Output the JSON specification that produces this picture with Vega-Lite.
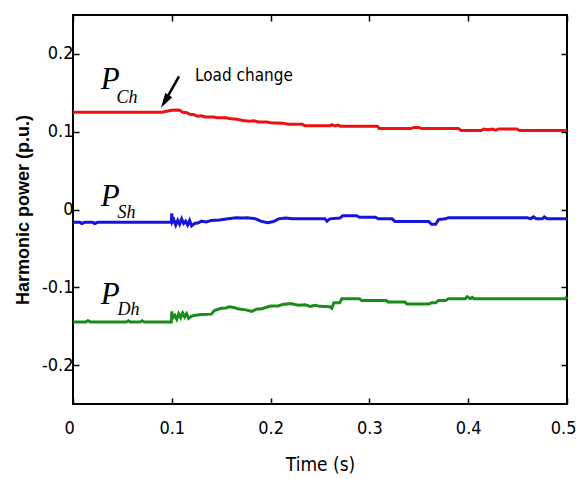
{
  "$schema": "https://vega.github.io/schema/vega-lite/v6.json",
  "width": 494,
  "height": 389,
  "autosize": {"type": "none"},
  "padding": {"left": 73, "top": 15, "right": 12, "bottom": 75},
  "background": "white",
  "config": {
    "view": {"stroke": "#000", "strokeWidth": 2},
    "axis": {"grid": false, "domain": false, "tickColor": "#000", "tickWidth": 1.5, "tickSize": -6, "labelColor": "#000", "titleColor": "#000"}
  },
  "datasets": {
    "series": [
      {"t":0,"v":0.125,"s":"Ch"},{"t":0.09,"v":0.125,"s":"Ch"},{"t":0.096,"v":0.1265,"s":"Ch"},{"t":0.1,"v":0.1275,"s":"Ch"},{"t":0.104,"v":0.128,"s":"Ch"},{"t":0.108,"v":0.1275,"s":"Ch"},{"t":0.111,"v":0.125,"s":"Ch"},{"t":0.115,"v":0.1245,"s":"Ch"},{"t":0.118,"v":0.1225,"s":"Ch"},{"t":0.122,"v":0.122,"s":"Ch"},{"t":0.126,"v":0.12,"s":"Ch"},{"t":0.13,"v":0.1205,"s":"Ch"},{"t":0.134,"v":0.119,"s":"Ch"},{"t":0.142,"v":0.119,"s":"Ch"},{"t":0.146,"v":0.118,"s":"Ch"},{"t":0.155,"v":0.118,"s":"Ch"},{"t":0.16,"v":0.1165,"s":"Ch"},{"t":0.166,"v":0.116,"s":"Ch"},{"t":0.172,"v":0.1145,"s":"Ch"},{"t":0.178,"v":0.1135,"s":"Ch"},{"t":0.183,"v":0.114,"s":"Ch"},{"t":0.188,"v":0.1125,"s":"Ch"},{"t":0.196,"v":0.1125,"s":"Ch"},{"t":0.2,"v":0.1115,"s":"Ch"},{"t":0.212,"v":0.111,"s":"Ch"},{"t":0.218,"v":0.1095,"s":"Ch"},{"t":0.232,"v":0.1095,"s":"Ch"},{"t":0.235,"v":0.1075,"s":"Ch"},{"t":0.26,"v":0.1075,"s":"Ch"},{"t":0.262,"v":0.109,"s":"Ch"},{"t":0.265,"v":0.1075,"s":"Ch"},{"t":0.268,"v":0.1085,"s":"Ch"},{"t":0.271,"v":0.107,"s":"Ch"},{"t":0.308,"v":0.107,"s":"Ch"},{"t":0.31,"v":0.104,"s":"Ch"},{"t":0.342,"v":0.104,"s":"Ch"},{"t":0.345,"v":0.1055,"s":"Ch"},{"t":0.35,"v":0.1055,"s":"Ch"},{"t":0.353,"v":0.104,"s":"Ch"},{"t":0.39,"v":0.104,"s":"Ch"},{"t":0.393,"v":0.1015,"s":"Ch"},{"t":0.413,"v":0.1015,"s":"Ch"},{"t":0.416,"v":0.1035,"s":"Ch"},{"t":0.42,"v":0.1025,"s":"Ch"},{"t":0.424,"v":0.1035,"s":"Ch"},{"t":0.428,"v":0.102,"s":"Ch"},{"t":0.431,"v":0.1035,"s":"Ch"},{"t":0.449,"v":0.1035,"s":"Ch"},{"t":0.452,"v":0.1015,"s":"Ch"},{"t":0.5,"v":0.1015,"s":"Ch"},
      {"t":0,"v":-0.0165,"s":"Sh"},{"t":0.007,"v":-0.0165,"s":"Sh"},{"t":0.009,"v":-0.018,"s":"Sh"},{"t":0.012,"v":-0.0165,"s":"Sh"},{"t":0.02,"v":-0.0165,"s":"Sh"},{"t":0.022,"v":-0.018,"s":"Sh"},{"t":0.025,"v":-0.0165,"s":"Sh"},{"t":0.0995,"v":-0.0165,"s":"Sh"},{"t":0.1,"v":-0.005,"s":"Sh"},{"t":0.1005,"v":-0.016,"s":"Sh"},{"t":0.102,"v":-0.013,"s":"Sh"},{"t":0.104,"v":-0.02,"s":"Sh"},{"t":0.106,"v":-0.014,"s":"Sh"},{"t":0.108,"v":-0.019,"s":"Sh"},{"t":0.11,"v":-0.012,"s":"Sh"},{"t":0.112,"v":-0.018,"s":"Sh"},{"t":0.114,"v":-0.015,"s":"Sh"},{"t":0.116,"v":-0.02,"s":"Sh"},{"t":0.118,"v":-0.014,"s":"Sh"},{"t":0.12,"v":-0.021,"s":"Sh"},{"t":0.123,"v":-0.018,"s":"Sh"},{"t":0.127,"v":-0.017,"s":"Sh"},{"t":0.13,"v":-0.015,"s":"Sh"},{"t":0.135,"v":-0.016,"s":"Sh"},{"t":0.14,"v":-0.014,"s":"Sh"},{"t":0.148,"v":-0.0135,"s":"Sh"},{"t":0.157,"v":-0.012,"s":"Sh"},{"t":0.165,"v":-0.0105,"s":"Sh"},{"t":0.172,"v":-0.011,"s":"Sh"},{"t":0.176,"v":-0.0105,"s":"Sh"},{"t":0.185,"v":-0.012,"s":"Sh"},{"t":0.19,"v":-0.015,"s":"Sh"},{"t":0.197,"v":-0.017,"s":"Sh"},{"t":0.203,"v":-0.0155,"s":"Sh"},{"t":0.208,"v":-0.012,"s":"Sh"},{"t":0.215,"v":-0.011,"s":"Sh"},{"t":0.222,"v":-0.012,"s":"Sh"},{"t":0.255,"v":-0.012,"s":"Sh"},{"t":0.257,"v":-0.015,"s":"Sh"},{"t":0.26,"v":-0.012,"s":"Sh"},{"t":0.27,"v":-0.011,"s":"Sh"},{"t":0.273,"v":-0.008,"s":"Sh"},{"t":0.287,"v":-0.008,"s":"Sh"},{"t":0.29,"v":-0.01,"s":"Sh"},{"t":0.306,"v":-0.01,"s":"Sh"},{"t":0.309,"v":-0.012,"s":"Sh"},{"t":0.323,"v":-0.012,"s":"Sh"},{"t":0.326,"v":-0.0155,"s":"Sh"},{"t":0.36,"v":-0.0155,"s":"Sh"},{"t":0.363,"v":-0.019,"s":"Sh"},{"t":0.367,"v":-0.019,"s":"Sh"},{"t":0.37,"v":-0.013,"s":"Sh"},{"t":0.377,"v":-0.012,"s":"Sh"},{"t":0.38,"v":-0.0105,"s":"Sh"},{"t":0.46,"v":-0.0105,"s":"Sh"},{"t":0.463,"v":-0.012,"s":"Sh"},{"t":0.466,"v":-0.0095,"s":"Sh"},{"t":0.469,"v":-0.012,"s":"Sh"},{"t":0.475,"v":-0.012,"s":"Sh"},{"t":0.477,"v":-0.0095,"s":"Sh"},{"t":0.48,"v":-0.012,"s":"Sh"},{"t":0.5,"v":-0.012,"s":"Sh"},
      {"t":0,"v":-0.1445,"s":"Dh"},{"t":0.013,"v":-0.1445,"s":"Dh"},{"t":0.015,"v":-0.143,"s":"Dh"},{"t":0.018,"v":-0.1445,"s":"Dh"},{"t":0.054,"v":-0.1445,"s":"Dh"},{"t":0.056,"v":-0.143,"s":"Dh"},{"t":0.058,"v":-0.1445,"s":"Dh"},{"t":0.068,"v":-0.1445,"s":"Dh"},{"t":0.07,"v":-0.143,"s":"Dh"},{"t":0.072,"v":-0.1445,"s":"Dh"},{"t":0.0995,"v":-0.1445,"s":"Dh"},{"t":0.1,"v":-0.131,"s":"Dh"},{"t":0.1005,"v":-0.14,"s":"Dh"},{"t":0.103,"v":-0.136,"s":"Dh"},{"t":0.105,"v":-0.141,"s":"Dh"},{"t":0.107,"v":-0.134,"s":"Dh"},{"t":0.109,"v":-0.139,"s":"Dh"},{"t":0.111,"v":-0.133,"s":"Dh"},{"t":0.113,"v":-0.138,"s":"Dh"},{"t":0.115,"v":-0.134,"s":"Dh"},{"t":0.117,"v":-0.14,"s":"Dh"},{"t":0.12,"v":-0.137,"s":"Dh"},{"t":0.124,"v":-0.136,"s":"Dh"},{"t":0.13,"v":-0.135,"s":"Dh"},{"t":0.14,"v":-0.1345,"s":"Dh"},{"t":0.143,"v":-0.13,"s":"Dh"},{"t":0.15,"v":-0.127,"s":"Dh"},{"t":0.155,"v":-0.1265,"s":"Dh"},{"t":0.158,"v":-0.125,"s":"Dh"},{"t":0.163,"v":-0.126,"s":"Dh"},{"t":0.168,"v":-0.128,"s":"Dh"},{"t":0.175,"v":-0.129,"s":"Dh"},{"t":0.181,"v":-0.131,"s":"Dh"},{"t":0.186,"v":-0.128,"s":"Dh"},{"t":0.19,"v":-0.128,"s":"Dh"},{"t":0.195,"v":-0.126,"s":"Dh"},{"t":0.2,"v":-0.124,"s":"Dh"},{"t":0.208,"v":-0.124,"s":"Dh"},{"t":0.212,"v":-0.122,"s":"Dh"},{"t":0.22,"v":-0.121,"s":"Dh"},{"t":0.228,"v":-0.123,"s":"Dh"},{"t":0.235,"v":-0.1225,"s":"Dh"},{"t":0.24,"v":-0.1245,"s":"Dh"},{"t":0.245,"v":-0.123,"s":"Dh"},{"t":0.25,"v":-0.1245,"s":"Dh"},{"t":0.26,"v":-0.125,"s":"Dh"},{"t":0.262,"v":-0.127,"s":"Dh"},{"t":0.264,"v":-0.12,"s":"Dh"},{"t":0.27,"v":-0.12,"s":"Dh"},{"t":0.272,"v":-0.1147,"s":"Dh"},{"t":0.29,"v":-0.1147,"s":"Dh"},{"t":0.292,"v":-0.117,"s":"Dh"},{"t":0.317,"v":-0.117,"s":"Dh"},{"t":0.319,"v":-0.119,"s":"Dh"},{"t":0.336,"v":-0.119,"s":"Dh"},{"t":0.338,"v":-0.1215,"s":"Dh"},{"t":0.36,"v":-0.1215,"s":"Dh"},{"t":0.363,"v":-0.12,"s":"Dh"},{"t":0.367,"v":-0.12,"s":"Dh"},{"t":0.37,"v":-0.117,"s":"Dh"},{"t":0.377,"v":-0.117,"s":"Dh"},{"t":0.38,"v":-0.1147,"s":"Dh"},{"t":0.397,"v":-0.1147,"s":"Dh"},{"t":0.399,"v":-0.112,"s":"Dh"},{"t":0.402,"v":-0.1147,"s":"Dh"},{"t":0.404,"v":-0.113,"s":"Dh"},{"t":0.406,"v":-0.1147,"s":"Dh"},{"t":0.498,"v":-0.1147,"s":"Dh"},{"t":0.5,"v":-0.112,"s":"Dh"}
    ],
    "bigP": [
      {"t":0.028,"v":0.1545,"label":"P"},
      {"t":0.028,"v":0.0045,"label":"P"},
      {"t":0.028,"v":-0.121,"label":"P"}
    ],
    "subs": [
      {"t":0.044,"v":0.137,"label":"Ch"},
      {"t":0.045,"v":-0.0115,"label":"Sh"},
      {"t":0.045,"v":-0.1355,"label":"Dh"}
    ],
    "note": [{"t":0.1235,"v":0.165,"label":"Load change"}],
    "arrow": [{"t":0.1073,"v":0.1712,"t2":0.093,"v2":0.1389}]
  },
  "resolve": {"axis": {"x": "independent", "y": "independent"}},
  "layer": [
    {
      "data": {"name": "series"},
      "mark": {"type": "line", "strokeWidth": 3, "interpolate": "linear"},
      "encoding": {
        "x": {"field": "t", "type": "quantitative", "scale": {"domain": [0, 0.5], "nice": false, "zero": false},
          "axis": {"orient": "bottom", "values": [0, 0.1, 0.2, 0.3, 0.4, 0.5], "labelExpr": "datum.value + ''", "labelFont": "DejaVu Sans Condensed, Roboto, sans-serif", "labelFontSize": 18, "labelPadding": 21, "labelFlush": true, "labelFlushOffset": 9, "title": "Time (s)", "titleFont": "DejaVu Sans Condensed, Roboto, sans-serif", "titleFontSize": 19, "titleFontWeight": "normal", "titlePadding": 18}},
        "y": {"field": "v", "type": "quantitative", "scale": {"domain": [-0.25, 0.25], "nice": false, "zero": false},
          "axis": {"orient": "left", "values": [-0.2, -0.1, 0, 0.1, 0.2], "labelExpr": "datum.value + ''", "labelFont": "DejaVu Sans Condensed, Roboto, sans-serif", "labelFontSize": 18, "labelPadding": 6, "title": "Harmonic power (p.u.)", "titleFont": "Liberation Sans", "titleFontSize": 18, "titleFontWeight": "bold", "titlePadding": 9}},
        "color": {"field": "s", "type": "nominal", "scale": {"domain": ["Ch", "Sh", "Dh"], "range": ["#ee1111", "#1515dd", "#1a8c1a"]}, "legend": null},
        "detail": {"field": "s"}
      }
    },
    {
      "data": {"name": "bigP"},
      "mark": {"type": "text", "font": "Liberation Serif", "fontStyle": "italic", "fontSize": 31, "align": "left", "baseline": "alphabetic", "color": "#000"},
      "encoding": {
        "x": {"field": "t", "type": "quantitative", "axis": {"orient": "top", "values": [0, 0.1, 0.2, 0.3, 0.4, 0.5], "labels": false, "title": null}},
        "y": {"field": "v", "type": "quantitative", "axis": {"orient": "right", "values": [-0.2, -0.1, 0, 0.1, 0.2], "labels": false, "title": null}},
        "text": {"field": "label"}
      }
    },
    {
      "data": {"name": "subs"},
      "mark": {"type": "text", "font": "Liberation Serif", "fontStyle": "italic", "fontSize": 18, "align": "left", "baseline": "alphabetic", "color": "#000"},
      "encoding": {
        "x": {"field": "t", "type": "quantitative", "axis": null},
        "y": {"field": "v", "type": "quantitative", "axis": null},
        "text": {"field": "label"}
      }
    },
    {
      "data": {"name": "note"},
      "mark": {"type": "text", "font": "DejaVu Sans Condensed, Roboto, sans-serif", "fontSize": 17, "align": "left", "baseline": "alphabetic", "color": "#000"},
      "encoding": {
        "x": {"field": "t", "type": "quantitative", "axis": null},
        "y": {"field": "v", "type": "quantitative", "axis": null},
        "text": {"field": "label"}
      }
    },
    {
      "data": {"name": "arrow"},
      "mark": {"type": "rule", "strokeWidth": 2.5, "color": "#000"},
      "encoding": {
        "x": {"field": "t", "type": "quantitative", "axis": null},
        "y": {"field": "v", "type": "quantitative", "axis": null},
        "x2": {"field": "t2"},
        "y2": {"field": "v2"}
      }
    },
    {
      "data": {"name": "arrow"},
      "mark": {"type": "point", "shape": "M0,-1L0.55,1L-0.55,1Z", "filled": true, "color": "#000", "opacity": 1, "size": 225, "angle": 211},
      "encoding": {
        "x": {"field": "t2", "type": "quantitative", "axis": null},
        "y": {"field": "v2", "type": "quantitative", "axis": null}
      }
    }
  ]
}
